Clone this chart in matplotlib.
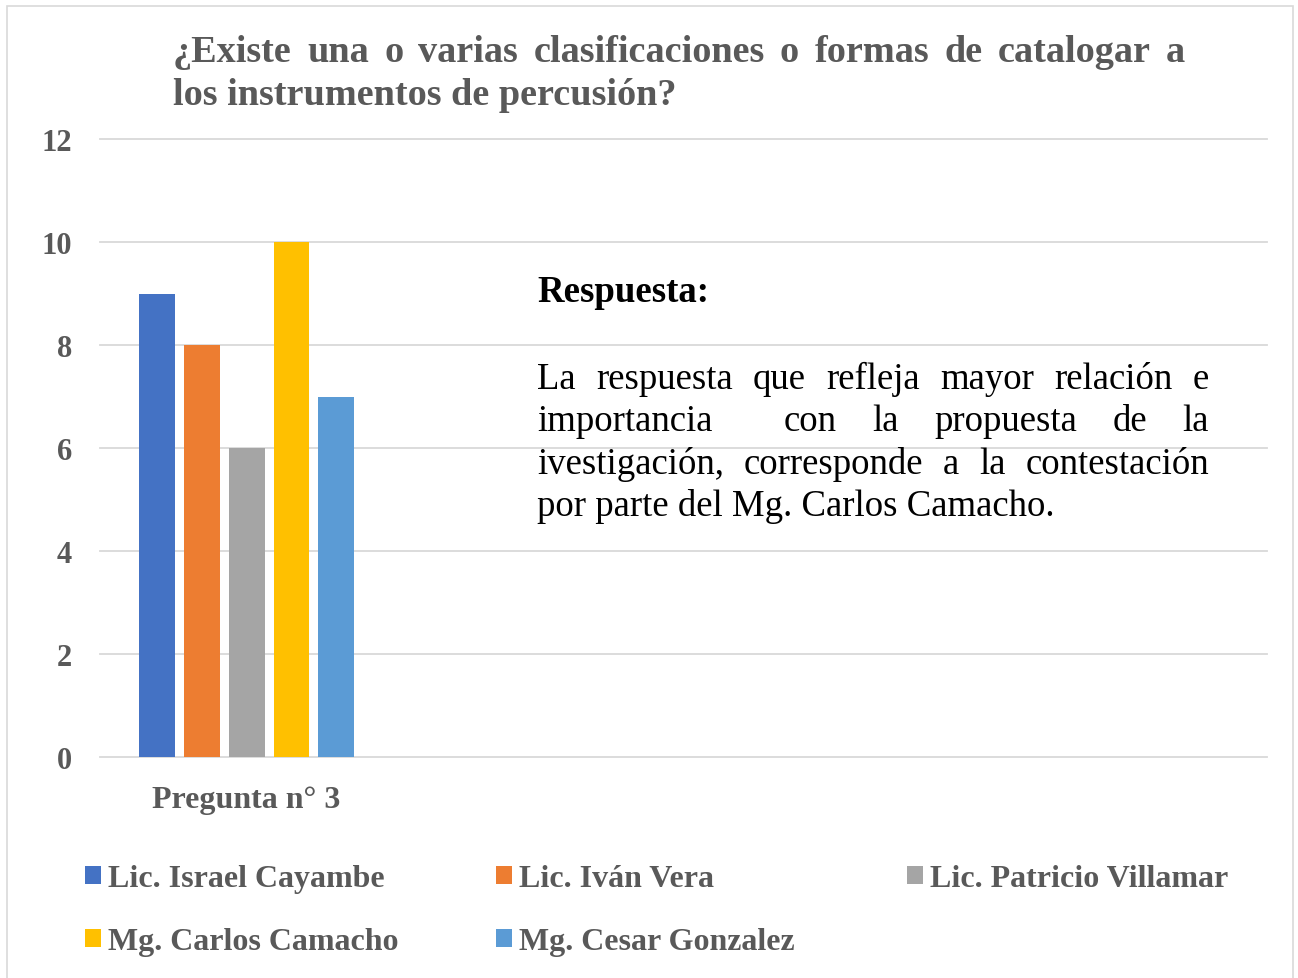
import matplotlib
matplotlib.use("Agg")
import matplotlib.pyplot as plt
from matplotlib.patches import Rectangle, Patch

# ---------------- data ----------------
series_names = ["Lic. Israel Cayambe", "Lic. Iván Vera", "Lic. Patricio Villamar",
                "Mg. Carlos Camacho", "Mg. Cesar Gonzalez"]
series_values = [9, 8, 6, 10, 7]
series_colors = ["#4472C4", "#ED7D31", "#A5A5A5", "#FFC000", "#5B9BD5"]
category_label = "Pregunta n° 3"
y_ticks = [0, 2, 4, 6, 8, 10, 12]
title_lines = ["¿Existe una o varias clasificaciones o formas de catalogar a",
               "los instrumentos de percusión?"]
answer_heading = "Respuesta:"
answer_lines = ["La respuesta que refleja mayor relación e",
                "importancia  con la propuesta de la",
                "ivestigación, corresponde a la contestación",
                "por parte del Mg. Carlos Camacho."]

# ---------------- layout ----------------
W, H = 1298, 979
SERIF = ["Liberation Serif", "DejaVu Serif"]
GRAY = "#595959"
GRID = "#D9D9D9"

def fx(px):
    return px / W

def fy(py):
    return 1 - py / H

fig = plt.figure(figsize=(W / 100, H / 100), dpi=100)
fig.patch.set_facecolor("white")
fig.patches.append(Rectangle((fx(7), fy(1000)), fx(1293) - fx(7), fy(7) - fy(1000),
                             transform=fig.transFigure, fill=False,
                             ec=GRID, lw=1.2, zorder=0))

ax = fig.add_axes([fx(100), fy(758), fx(1267) - fx(100), fy(140) - fy(758)])
n = len(series_values)
step = 1.0
for i, (name, v, c) in enumerate(zip(series_names, series_values, series_colors)):
    ax.bar((i - (n - 1) / 2) * step, v, width=0.8, color=c, label=name, zorder=2)

ax.set_xlim(-3.256, 22.68)
ax.set_ylim(0, 12)
ax.set_yticks(y_ticks)
ax.set_yticklabels([str(t) for t in y_ticks], fontfamily=SERIF, fontweight="bold",
                   fontsize=22, color=GRAY)
ax.set_xticks([0])
ax.set_xticklabels([category_label], fontfamily=SERIF, fontweight="bold",
                   fontsize=23, color=GRAY)
ax.tick_params(axis="both", length=0)
ax.tick_params(axis="y", pad=20)
ax.tick_params(axis="x", pad=20)
for s in ax.spines.values():
    s.set_visible(False)
ax.grid(axis="y", color=GRID, lw=1.3, zorder=0)
ax.set_axisbelow(True)
for gl in ax.get_ygridlines():
    gl.set_clip_on(False)

renderer = fig.canvas.get_renderer()

def justify(line, x0, x1, y, **kw):
    tokens = line.split(" ")
    texts, widths = [], []
    for t in tokens:
        if t:
            tx = fig.text(fx(x0), fy(y), t, ha="left", va="baseline", **kw)
            texts.append(tx)
            widths.append(tx.get_window_extent(renderer).width)
        else:
            texts.append(None)
            widths.append(0.0)
    gap = (x1 - x0 - sum(widths)) / (len(tokens) - 1)
    x = x0
    for tx, w in zip(texts, widths):
        if tx is not None:
            tx.set_x(fx(x))
        x += w + gap

# title
tkw = dict(fontfamily=SERIF, fontweight="bold", fontsize=27.5, color=GRAY)
justify(title_lines[0], 173, 1185, 62, **tkw)
fig.text(fx(173), fy(105), title_lines[1], ha="left", va="baseline", **tkw)

# answer box
fig.text(fx(537), fy(302), answer_heading, ha="left", va="baseline",
         fontfamily=SERIF, fontweight="bold", fontsize=26.5, color="black")
akw = dict(fontfamily=SERIF, fontsize=26.5, color="black")
ys = [389, 431, 474, 516]
for k, (line, yy) in enumerate(zip(answer_lines, ys)):
    if k < len(answer_lines) - 1:
        justify(line, 537, 1209, yy, **akw)
    else:
        fig.text(fx(537), fy(yy), line, ha="left", va="baseline", **akw)

# legend: one entry per slot, Excel-like fixed columns
slots = [(85, 880), (496, 880), (907, 880), (85, 943), (496, 943)]
for name, c, (px, py) in zip(series_names, series_colors, slots):
    leg = fig.legend(handles=[Patch(facecolor=c, edgecolor="none", label=name)],
                     loc="center left", bbox_to_anchor=(fx(px), fy(py)),
                     bbox_transform=fig.transFigure, frameon=False,
                     borderpad=0, borderaxespad=0, handlelength=0.5,
                     handleheight=0.5, handletextpad=0.22,
                     prop=dict(family=SERIF, weight="bold", size=23))
    for t in leg.get_texts():
        t.set_color(GRAY)

fig.savefig("out.png", dpi=100)
